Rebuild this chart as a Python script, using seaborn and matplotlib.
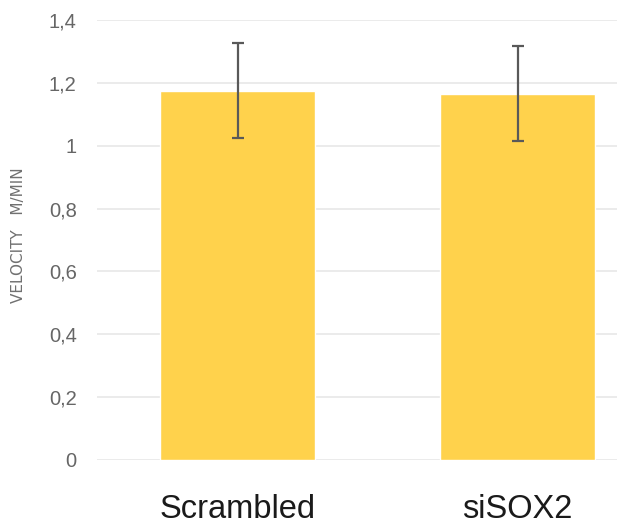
import matplotlib
matplotlib.use("Agg")
import matplotlib.pyplot as plt
import seaborn as sns
import pandas as pd

# Mean migration velocity per condition, with error (SD)
conditions = ["Scrambled", "siSOX2"]
velocity = [1.175, 1.165]
velocity_err = [0.151, 0.151]
y_ticks = [0, 0.2, 0.4, 0.6, 0.8, 1.0, 1.2, 1.4]
y_tick_labels = ["0", "0,2", "0,4", "0,6", "0,8", "1", "1,2", "1,4"]

df = pd.DataFrame({"condition": conditions, "velocity": velocity})

sns.set_theme(style="white")
plt.rcParams["font.family"] = ["Liberation Sans", "DejaVu Sans"]

fig = plt.figure(figsize=(6.17, 5.28), dpi=100)
ax = fig.add_axes([0.158, 0.1288, 0.842, 0.8333])

sns.barplot(data=df, x="condition", y="velocity", color="#FFD24C",
            saturation=1, width=0.555, errorbar=None, ax=ax, zorder=2)
ax.errorbar(range(len(conditions)), velocity, yerr=velocity_err, fmt="none",
            ecolor="#595959", elinewidth=1.6, capsize=4.3, capthick=1.6, zorder=3)

ax.set_ylim(0, 1.4)
ax.set_xlim(-0.5, 1.355)
ax.set_yticks(y_ticks)
ax.set_yticklabels(y_tick_labels)
ax.yaxis.grid(True, color="#EBEBEB", linewidth=1.4, zorder=0)
ax.set_axisbelow(True)
for s in ax.spines.values():
    s.set_visible(False)

ax.tick_params(axis="y", length=0, pad=15, labelsize=14.5, labelcolor="#666666")
ax.tick_params(axis="x", length=0, pad=24.5, labelsize=23.5, labelcolor="#1a1a1a")
ax.set_xlabel("")
ax.set_ylabel("")
fig.text(0.03, 0.555, "VELOCITY   M/MIN", rotation=90, ha="center", va="center",
         fontsize=11, color="#707070", family=["DejaVu Sans"])

fig.savefig("out.png", dpi=100)
